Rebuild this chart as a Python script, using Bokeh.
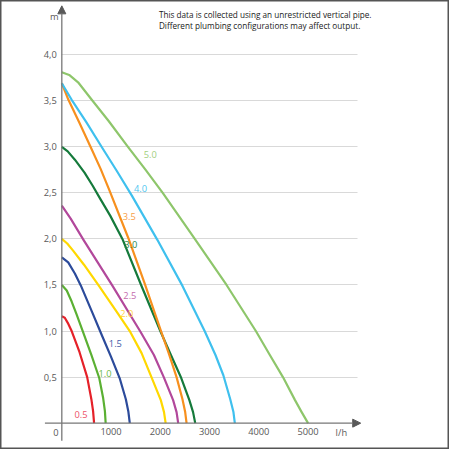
from bokeh.embed import file_html
from bokeh.models import Arrow, FixedTicker, Grid, Label, LinearAxis, NormalHead, Range1d
from bokeh.plotting import figure
from bokeh.resources import INLINE

# pump curves: flow (l/h) against head (m), one per pump size
models = ["0.5", "1.0", "1.5", "2.0", "2.5", "3.0", "3.5", "4.0", "5.0"]
colors = ["#e52129", "#5bb033", "#2c4b9b", "#ffd800", "#b2489b",
          "#157a3b", "#f7901e", "#3fc0ee", "#8ec66b"]
label_colors = ["#ee5268", "#6cba45", "#3f5ca8", "#ffd23a", "#c56cae",
                "#2a8a4b", "#f7a047", "#50c7f0", "#a2cf80"]

flow_05 = [0, 60, 130, 200, 360, 515, 600, 635, 655]
head_05 = [1.16, 1.145, 1.08, 1.0, 0.77, 0.5, 0.26, 0.13, 0]

flow_10 = [0, 100, 200, 300, 430, 600, 760, 840, 875, 890]
head_10 = [1.5, 1.44, 1.32, 1.18, 0.99, 0.74, 0.49, 0.27, 0.13, 0]

flow_15 = [0, 130, 265, 385, 620, 800, 1000, 1180, 1300, 1350, 1380]
head_15 = [1.8, 1.745, 1.625, 1.495, 1.2, 0.97, 0.72, 0.48, 0.26, 0.13, 0]

flow_20 = [0, 110, 225, 450, 740, 1140, 1390, 1620, 1820, 2010, 2075, 2108]
head_20 = [2.0, 1.95, 1.875, 1.72, 1.5, 1.19, 0.99, 0.76, 0.5, 0.25, 0.12, 0]

flow_25 = [0, 180, 440, 1030, 1600, 1870, 2070, 2260, 2330, 2363]
head_25 = [2.36, 2.22, 1.99, 1.49, 0.99, 0.74, 0.5, 0.25, 0.12, 0]

flow_30 = [0, 120, 265, 461, 624, 775, 985, 1230, 1610, 2000, 2215, 2425, 2590, 2665, 2709]
head_30 = [3.0, 2.95, 2.86, 2.72, 2.58, 2.44, 2.25, 2.0, 1.5, 1.0, 0.74, 0.49, 0.25, 0.12, 0]

flow_35 = [0, 134, 350, 592, 788, 965, 1350, 1680, 2000, 2170, 2330, 2450, 2505, 2533]
head_35 = [3.69, 3.51, 3.27, 2.99, 2.76, 2.53, 2.01, 1.52, 1.02, 0.76, 0.5, 0.26, 0.12, 0]

flow_40 = [0, 200, 494, 820, 1114, 1422, 1940, 2450, 2900, 3120, 3280, 3420, 3485, 3513]
head_40 = [3.69, 3.51, 3.27, 2.99, 2.74, 2.47, 1.99, 1.49, 1.0, 0.74, 0.52, 0.26, 0.12, 0]

flow_50 = [0, 150, 330, 624, 951, 1343, 1702, 2049, 2700, 3345, 3940, 4212, 4490, 4735, 4870, 5000]
head_50 = [3.81, 3.78, 3.70, 3.5, 3.28, 3.0, 2.75, 2.5, 2.0, 1.5, 1.0, 0.75, 0.5, 0.25, 0.12, 0]

flows = [flow_05, flow_10, flow_15, flow_20, flow_25, flow_30, flow_35, flow_40, flow_50]
heads = [head_05, head_10, head_15, head_20, head_25, head_30, head_35, head_40, head_50]

x_ticks = [1000, 2000, 3000, 4000, 5000]
y_ticks = [0.5, 1.0, 1.5, 2.0, 2.5, 3.0, 3.5, 4.0]
y_tick_labels = ["0,5", "1,0", "1,5", "2,0", "2,5", "3,0", "3,5", "4,0"]

note = ["This data is collected using an unrestricted vertical pipe.",
        "Different plumbing configurations may affect output."]

# where each curve's name sits (data coords)
label_pos = [(388, 0.09), (878, 0.54), (1088, 0.87), (1318, 1.19), (1382, 1.39),
             (1402, 1.94), (1369, 2.24), (1598, 2.55), (1794, 2.92)]

FONT = "Open Sans"
GREY = "#595959"

p = figure(width=449, height=449, x_range=Range1d(-1245, 7872),
           y_range=Range1d(-0.286, 4.588), x_axis_location=None,
           y_axis_location=None, min_border=0, toolbar_location=None,
           output_backend="svg")
p.outline_line_color = "#555555"
p.outline_line_width = 2
p.background_fill_color = "white"
p.xgrid.visible = False
p.ygrid.visible = False

xaxis = LinearAxis(fixed_location=0, ticker=FixedTicker(ticks=x_ticks))
yaxis = LinearAxis(fixed_location=0, ticker=FixedTicker(ticks=y_ticks),
                   major_label_overrides=dict(zip(y_ticks, y_tick_labels)))
for ax in (xaxis, yaxis):
    ax.axis_line_color = None
    ax.major_tick_line_color = None
    ax.minor_tick_line_color = None
    ax.major_tick_out = 0
    ax.major_label_text_font = FONT
    ax.major_label_text_font_size = "9.3px"
    ax.major_label_text_color = GREY
    ax.major_label_standoff = 5
p.add_layout(xaxis, "below")
p.add_layout(yaxis, "left")

grid = Grid(dimension=1, ticker=yaxis.ticker, grid_line_color="#d9d9d9",
            grid_line_width=1.2, cross_bounds=(0, 6000))
p.add_layout(grid)

for fl, hd, c in zip(flows, heads, colors):
    p.line(fl, hd, line_color=c, line_width=2.2, line_join="round")

p.add_layout(Arrow(end=NormalHead(size=8, fill_color=GREY, line_color=GREY),
                   x_start=-343, y_start=0, x_end=6069, y_end=0,
                   line_color="#777777", line_width=1.3))
p.add_layout(Arrow(end=NormalHead(size=8, fill_color=GREY, line_color=GREY),
                   x_start=0, y_start=-0.19, x_end=0, y_end=4.53,
                   line_color="#777777", line_width=1.3))

for name, (lx, ly), c in zip(models, label_pos, label_colors):
    p.add_layout(Label(x=lx, y=ly, text=name, text_color=c, text_font=FONT,
                       text_font_size="9.3px", text_align="center",
                       text_baseline="middle"))

for txt, lx, ly in [("m", -150, 4.41), ("l/h", 5676, -0.105), ("0", -122, -0.105)]:
    p.add_layout(Label(x=lx, y=ly, text=txt, text_color=GREY, text_font=FONT,
                       text_font_size="9.3px", text_align="center",
                       text_baseline="middle"))

for txt, ly in zip(note, [4.441, 4.319]):
    p.add_layout(Label(x=1971, y=ly, text=txt, text_color="#1a1a1a",
                       text_font=FONT, text_font_size="8.2px",
                       text_align="left", text_baseline="middle"))

open("out.html", "w").write(file_html(p, INLINE))
